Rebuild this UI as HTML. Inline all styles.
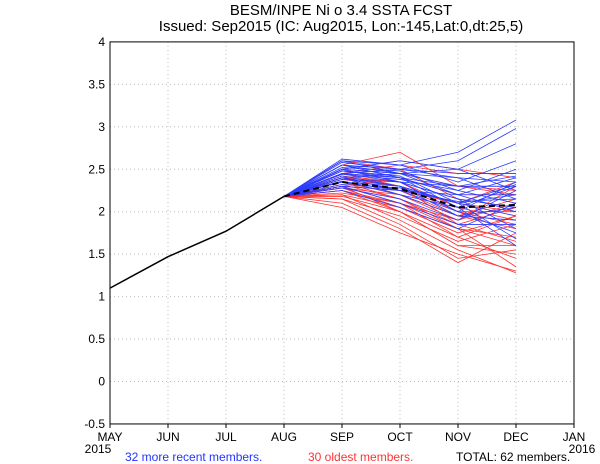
<!DOCTYPE html>
<html><head><meta charset="utf-8"><style>
body{margin:0;background:#fff;}
svg{display:block;font-family:"Liberation Sans",sans-serif;}
</style></head><body>
<svg id="c" width="600" height="464" viewBox="0 0 600 464">
<text x="341" y="15" font-size="15" text-anchor="middle">BESM/INPE Ni o 3.4 SSTA FCST</text>
<text x="341" y="31" font-size="15" text-anchor="middle">Issued: Sep2015 (IC: Aug2015, Lon:-145,Lat:0,dt:25,5)</text>
<g id="grid"></g><g id="members"></g><g id="obs"></g><g id="axes"></g>
<text x="125" y="461" font-size="12" fill="#2233ff">32 more recent members.</text>
<text x="308" y="461" font-size="12" fill="#ff3333">30 oldest members.</text>
<text x="456" y="461" font-size="12" fill="#000">TOTAL: 62 members.</text>
</svg>
<script>
const months=["MAY","JUN","JUL","AUG","SEP","OCT","NOV","DEC","JAN"];
const yTicks=[-0.5,0,0.5,1,1.5,2,2.5,3,3.5,4];
const observed=[1.1,1.47,1.77,2.18];
const ensMean=[2.35,2.27,2.05,2.08];
const blueMembers=[
[2.62,2.55,2.7,3.08],[2.55,2.5,2.6,2.98],[2.5,2.45,2.5,2.8],[2.6,2.55,2.35,2.6],[2.45,2.5,2.45,2.45],
[2.55,2.45,2.3,2.3],[2.5,2.6,2.5,2.25],[2.4,2.45,2.4,2.35],[2.48,2.4,2.2,2.4],[2.35,2.3,2.1,2.2],
[2.58,2.5,2.4,2.15],[2.45,2.35,2.15,2.05],[2.4,2.2,2.05,2.3],[2.3,2.25,2.2,2.0],[2.52,2.48,2.25,2.1],
[2.42,2.3,1.95,1.9],[2.38,2.35,2.3,2.42],[2.28,2.15,1.9,2.25],[2.5,2.35,2.0,1.75],[2.45,2.4,2.05,1.6],
[2.35,2.25,2.0,2.35],[2.6,2.45,2.2,2.2],[2.3,2.1,1.85,1.85],[2.4,2.3,2.1,1.95],[2.55,2.4,2.3,2.3],
[2.25,2.05,1.8,2.1],[2.48,2.42,2.1,1.68],[2.36,2.2,1.95,2.05],[2.44,2.38,2.25,2.5],[2.5,2.35,2.15,1.8],
[2.32,2.28,2.1,2.32],[2.4,2.25,2.12,2.15]];
const redMembers=[
[2.55,2.7,2.3,2.2],[2.5,2.6,2.5,2.4],[2.45,2.55,2.45,2.45],[2.4,2.35,2.0,2.0],[2.3,2.1,1.8,1.7],
[2.05,1.75,1.5,1.3],[2.2,1.9,1.55,1.28],[2.25,2.0,1.6,1.5],[2.35,2.15,1.8,1.6],[2.15,1.85,1.45,1.55],
[2.3,2.25,1.95,1.8],[2.4,2.3,2.1,2.0],[2.2,2.05,1.75,1.95],[2.1,1.8,1.4,1.75],[2.45,2.4,2.2,2.2],
[2.28,2.2,1.9,2.1],[2.38,2.3,1.85,1.65],[2.15,1.95,1.65,1.85],[2.5,2.45,2.3,2.25],[2.25,2.1,1.7,1.45],
[2.32,2.15,1.85,2.05],[2.42,2.35,2.05,1.9],[2.18,2.0,1.6,1.6],[2.35,2.2,1.95,2.15],[2.28,2.05,1.8,1.35],
[2.45,2.3,2.0,1.85],[2.22,2.1,1.9,2.3],[2.4,2.25,2.1,2.35],[2.3,2.0,1.7,1.95],[2.6,2.5,2.15,2.05]];

const X0=110,DX=58,Y0=381.5,PY=84.9;
const xs=i=>X0+i*DX, ys=v=>Y0-v*PY;
const NS="http://www.w3.org/2000/svg";
function mk(tag,parent,attrs){const e=document.createElementNS(NS,tag);for(const k in attrs)e.setAttribute(k,attrs[k]);parent.appendChild(e);return e;}
const grid=document.getElementById('grid'),axes=document.getElementById('axes'),mem=document.getElementById('members'),obs=document.getElementById('obs');
months.forEach((m,i)=>{
  if(i>0&&i<months.length-1){const l=mk('line',grid,{x1:xs(i),x2:xs(i),y1:ys(4),y2:ys(-0.5),stroke:'#bbb','stroke-dasharray':'1,3'});
  
  }
  const t=mk('text',axes,{x:xs(i),y:441,'font-size':12,'text-anchor':'middle'});t.textContent=m;
  
  
  const tk=mk('line',axes,{x1:xs(i),x2:xs(i),y1:ys(-0.5),y2:ys(-0.5)+4,stroke:'#000'});
  
  
});
[["2015",xs(0)-12],["2016",xs(8)+8]].forEach(a=>{const t=mk('text',axes,{x:a[1],y:453,'font-size':12,'text-anchor':'middle'});t.textContent=a[0];
  
  });
yTicks.forEach(v=>{
  if(v>-0.5&&v<4){const l=mk('line',grid,{x1:xs(0),x2:xs(8),y1:ys(v),y2:ys(v),stroke:'#bbb','stroke-dasharray':'1,3'});
  
  }
  const t=mk('text',axes,{x:xs(0)-5,y:ys(v)+4,'font-size':12,'text-anchor':'end'});t.textContent=v;
  
  
});
const fr=mk('rect',axes,{x:xs(0),y:ys(4),width:xs(8)-xs(0),height:ys(-0.5)-ys(4),fill:'none',stroke:'#000'});


function line(parent,vals,start,color,w,dash,name){
  const pts=[[xs(start-1),ys(observed[3])]];vals.forEach((v,i)=>pts.push([xs(start+i),ys(v)]));
  const p=mk('polyline',parent,{points:pts.map(p=>p.join(',')).join(' '),fill:'none',stroke:color,'stroke-width':w});
  if(dash)p.setAttribute('stroke-dasharray',dash);
  
  
}
redMembers.forEach(m=>line(mem,m,4,'#ff3030',0.8,null,'oldest-member-line'));
blueMembers.forEach(m=>line(mem,m,4,'#2a3cff',0.8,null,'recent-member-line'));
const op=mk('polyline',obs,{points:observed.map((v,i)=>xs(i)+','+ys(v)).join(' '),fill:'none',stroke:'#000','stroke-width':1.5});


line(obs,ensMean,4,'#000',2,'6,4','ensemble-mean-line');
</script>
</body></html>
